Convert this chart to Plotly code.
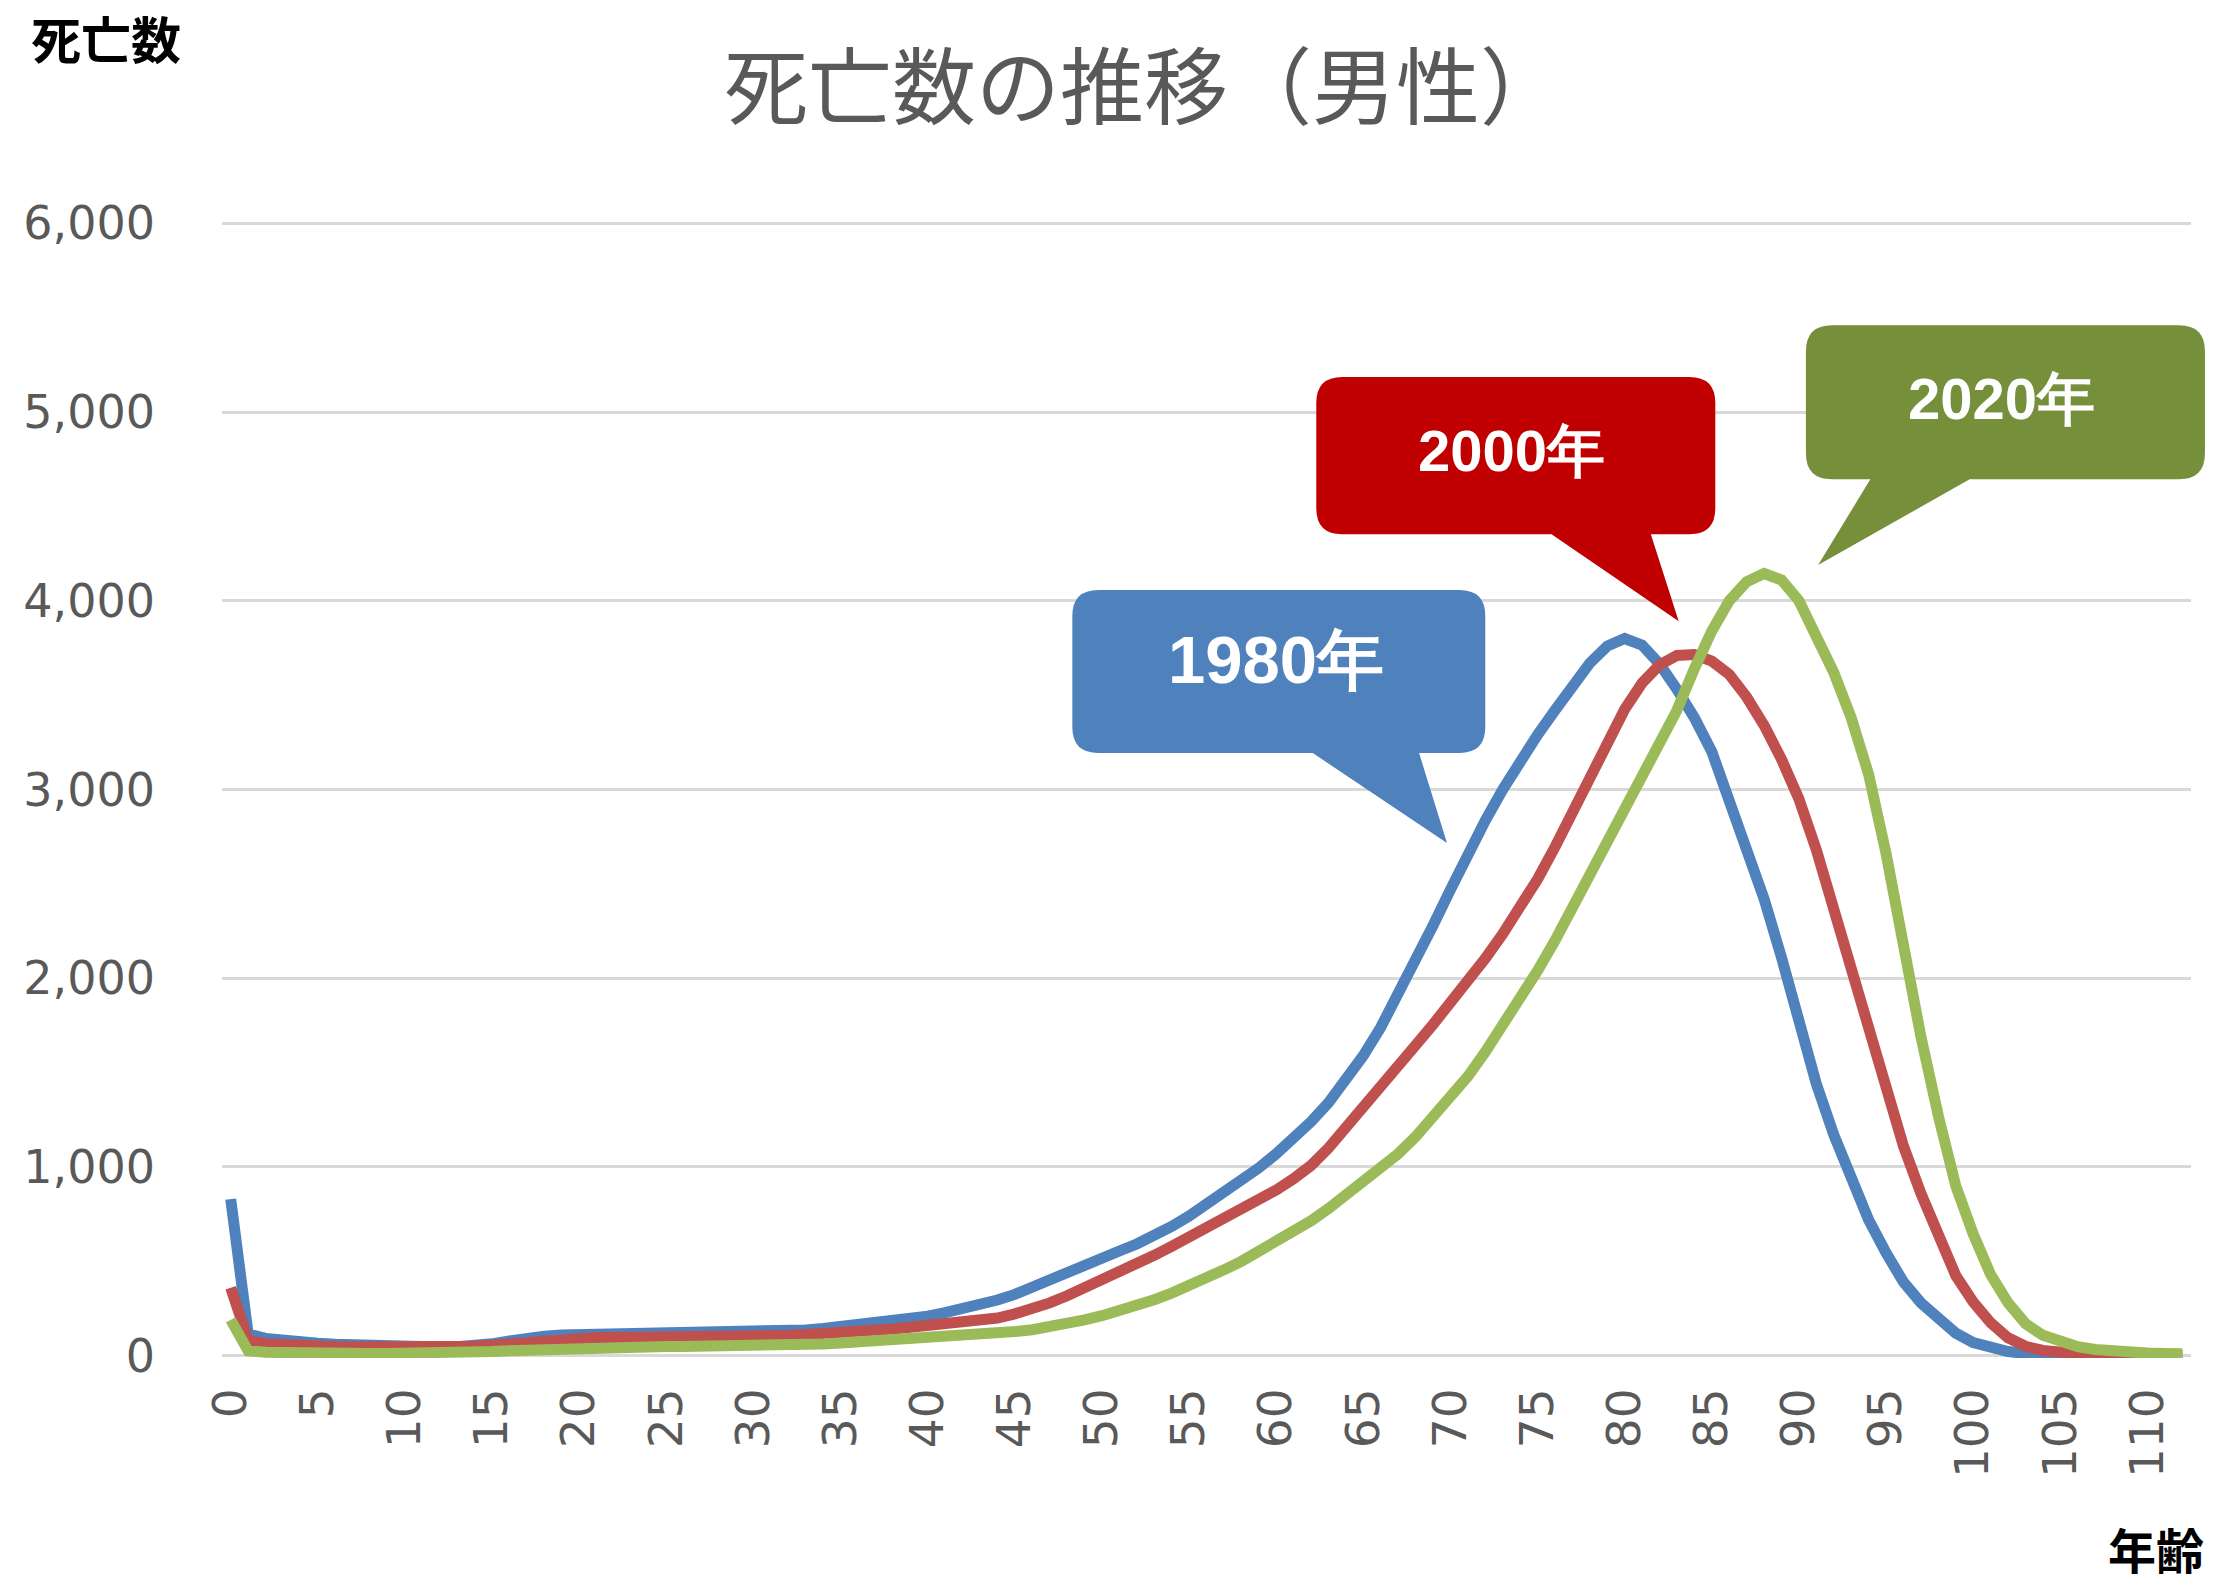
import plotly.graph_objects as go

# ---------------- data ----------------
ages = list(range(0, 113))

deaths_1980 = [
    830, 115, 92, 80, 72, 66, 61, 57, 54, 51,
    49, 47, 46, 48, 53, 63, 78, 94, 104, 110,
    112, 112, 111, 110, 110, 111, 112, 114, 116, 119,
    122, 126, 131, 137, 145, 154, 164, 175, 186, 198,
    210, 228, 248, 270, 295, 325, 365, 410, 450, 485,
    518, 555, 592, 635, 685, 740, 800, 860, 925, 995,
    1070, 1150, 1240, 1340, 1460, 1590, 1740, 1910, 2090, 2280,
    2470, 2660, 2835, 3000, 3150, 3290, 3420, 3550, 3670, 3760,
    3800, 3765, 3665, 3530, 3380, 3200, 2950, 2690, 2420, 2110,
    1780, 1440, 1170, 940, 720, 545, 390, 280, 195, 120,
    70, 40, 22, 12, 6, 3, 1, 1, 0, 0,
    0, 0, 0,
]

deaths_2000 = [
    360, 82, 63, 56, 52, 50, 48, 46, 45, 44,
    44, 44, 45, 47, 50, 55, 63, 72, 82, 90,
    94, 96, 97, 97, 97, 98, 98, 99, 100, 101,
    103, 105, 108, 112, 116, 121, 127, 134, 142, 151,
    160, 168, 177, 188, 200, 222, 248, 280, 318, 358,
    398, 440, 485, 532, 580, 628, 675, 725, 775, 825,
    878, 938, 1008, 1100, 1205, 1315, 1425, 1535, 1645, 1755,
    1865, 1980, 2105, 2235, 2375, 2525, 2695, 2875, 3065, 3255,
    3425, 3565, 3660, 3710, 3715, 3680, 3610, 3490, 3340, 3160,
    2950, 2680, 2360, 2020, 1730, 1400, 1110, 860, 640, 425,
    285, 175, 95, 50, 28, 15, 7, 3, 1, 0,
    0, 0, 0,
]

deaths_2020 = [
    190, 26, 18, 15, 14, 13, 12, 12, 12, 12,
    12, 13, 14, 16, 19, 23, 27, 31, 35, 38,
    40, 43, 45, 47, 48, 49, 49, 49, 49, 49,
    50, 52, 55, 58, 62, 67, 72, 77, 82, 87,
    92, 98, 104, 110, 118, 128, 138, 152, 170, 190,
    212, 237, 265, 297, 332, 370, 410, 455, 500, 550,
    600, 655, 715, 780, 850, 915, 985, 1070, 1160, 1260,
    1365, 1480, 1610, 1750, 1890, 2040, 2200, 2370, 2560, 2720,
    2880, 3060, 3240, 3420, 3640, 3840, 4000, 4100, 4144, 4110,
    4000, 3820, 3620, 3380, 3080, 2660, 2170, 1690, 1270, 900,
    645, 430, 280, 170, 108, 72, 48, 33, 22, 17,
    14, 12, 11,
]

series_names = ["1980年", "2000年", "2020年"]
x_tick_values = list(range(0, 111, 5))
x_tick_labels = [str(v) for v in x_tick_values]
y_tick_values = [0, 1000, 2000, 3000, 4000, 5000, 6000]

# ---------------- styling / geometry ----------------
W, H = 2214, 1585
ML, MR, MT, MB = 222, 23, 221, 227
PW, PH = W - ML - MR, H - MT - MB
N_CAT = len(ages)
Y_MAX = 6000
Y_PAD = 12  # small padding so the top and bottom gridlines are drawn

line_colors = ["#4F81BD", "#C0504D", "#9BBB59"]
box_colors = ["#4F81BD", "#C00000", "#768F3B"]
TICK_COLOR = "#595959"
GRID_COLOR = "#D9D9D9"
CJK = "Noto Sans CJK JP"


def xp(age):
    """data x (category) -> paper"""
    return (age + 0.5) / N_CAT


def yp(val):
    return (val + Y_PAD) / (Y_MAX + 2 * Y_PAD)


def px_x(px):
    return (px - ML) / PW


def px_y(py):
    return (H - MB - py) / PH


fig = go.Figure()
for name, ys, col in zip(series_names, [deaths_1980, deaths_2000, deaths_2020], line_colors):
    fig.add_trace(go.Scatter(
        x=ages, y=ys, mode="lines", name=name,
        line=dict(color=col, width=11, shape="linear"),
        hoverinfo="x+y+name",
    ))

# callouts: (box x0, x1, y0, y1, tail base xa, xb, tip xt, yt) in data units
callouts = [
    (48.3, 72.0, 3193, 4057, 62.1, 68.2, 69.8, 2717),
    (62.3, 85.2, 4353, 5185, 75.8, 81.5, 83.1, 3892),
    (90.4, 113.3, 4644, 5460, 94.1, 99.8, 91.1, 4189),
]
label_pos = [(60.0, 3691), (73.5, 4798), (101.6, 5073)]
label_fonts = [
    dict(family="Liberation Sans, Arial, sans-serif", size=67, color="white", weight="bold"),
    dict(family="Liberation Sans Narrow, Liberation Sans, sans-serif", size=58, color="white", weight="bold"),
    dict(family="Liberation Sans Narrow, Liberation Sans, sans-serif", size=58, color="white", weight="bold"),
]

R_PX = 26
rx = R_PX / PW
ry = R_PX / PH


def callout_path(c):
    x0, x1, y0, y1, xa, xb, xt, yt = c
    X0, X1, Y0, Y1 = xp(x0), xp(x1), yp(y0), yp(y1)
    XA, XB, XT, YT = xp(xa), xp(xb), xp(xt), yp(yt)
    p = [
        f"M {X0 + rx},{Y1}",
        f"L {X1 - rx},{Y1}",
        f"Q {X1},{Y1} {X1},{Y1 - ry}",
        f"L {X1},{Y0 + ry}",
        f"Q {X1},{Y0} {X1 - rx},{Y0}",
        f"L {XB},{Y0}",
        f"L {XT},{YT}",
        f"L {XA},{Y0}",
        f"L {X0 + rx},{Y0}",
        f"Q {X0},{Y0} {X0},{Y0 + ry}",
        f"L {X0},{Y1 - ry}",
        f"Q {X0},{Y1} {X0 + rx},{Y1}",
        "Z",
    ]
    return " ".join(p)


for c, col, name, (lx, ly), f in zip(callouts, box_colors, series_names, label_pos, label_fonts):
    fig.add_shape(type="path", path=callout_path(c), xref="paper", yref="paper",
                  fillcolor=col, line=dict(width=0), layer="above")
    fig.add_annotation(x=xp(lx), y=yp(ly), xref="paper", yref="paper", text=name,
                       showarrow=False, font=f, xanchor="center", yanchor="middle")

# title
fig.add_annotation(x=px_x(1144), y=px_y(82), xref="paper", yref="paper",
                   text="死亡数の推移（男性）", showarrow=False,
                   font=dict(family=CJK, size=84, color=TICK_COLOR),
                   xanchor="center", yanchor="middle")
# axis titles
fig.add_annotation(x=px_x(30), y=px_y(37), xref="paper", yref="paper",
                   text="死亡数", showarrow=False, borderpad=0,
                   font=dict(family=CJK, size=50, color="#000000", weight="bold"),
                   xanchor="left", yanchor="middle")
fig.add_annotation(x=px_x(2205), y=px_y(1548), xref="paper", yref="paper",
                   text="年齢", showarrow=False, borderpad=0,
                   font=dict(family=CJK, size=48, color="#000000", weight="bold"),
                   xanchor="right", yanchor="middle")

fig.update_layout(
    width=W, height=H,
    margin=dict(l=ML, r=MR, t=MT, b=MB, pad=0),
    paper_bgcolor="white", plot_bgcolor="white",
    showlegend=False,
    font=dict(family="DejaVu Sans", color=TICK_COLOR),
)
fig.update_xaxes(
    range=[-0.5, N_CAT - 0.5],
    tickmode="array", tickvals=x_tick_values, ticktext=x_tick_labels,
    tickangle=-90, tickfont=dict(family="DejaVu Sans", size=47, color=TICK_COLOR),
    showgrid=False, zeroline=False, showline=False,
    ticks="", ticklabelstandoff=20,
)
fig.update_yaxes(
    range=[-Y_PAD, Y_MAX + Y_PAD],
    tickmode="array", tickvals=y_tick_values, tickformat=",",
    tickfont=dict(family="DejaVu Sans", size=46, color=TICK_COLOR),
    showgrid=True, gridcolor=GRID_COLOR, gridwidth=3,
    zeroline=False, showline=False, ticks="", ticklabelstandoff=66,
)

fig.write_html(
    "out.html",
    config={"displayModeBar": False},
    post_script="document.body.style.margin='0px';document.body.style.overflow='hidden';",
)
